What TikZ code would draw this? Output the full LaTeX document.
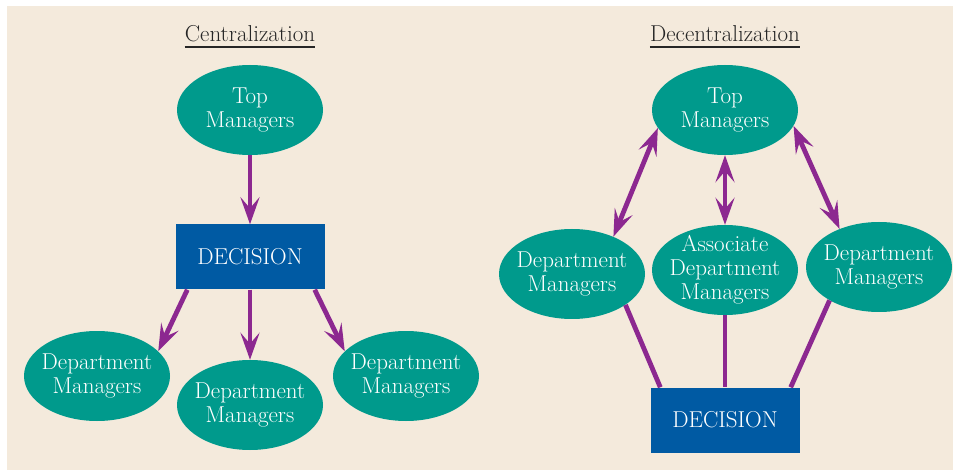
\documentclass[tikz,border=0pt]{standalone}
\usetikzlibrary{arrows.meta,shapes.geometric}
\definecolor{bg}{HTML}{F4EADC}
\definecolor{teal}{HTML}{009A8C}
\definecolor{dblue}{HTML}{005AA3}
\definecolor{purp}{HTML}{8C2890}
\tikzset{
  mgr/.style={ellipse, fill=teal, text=white, minimum width=146pt, minimum height=90pt,
    inner xsep=-14pt, inner ysep=-14pt, align=center, font=\fontsize{23}{24}\selectfont},
  decbox/.style={rectangle, fill=dblue, text=white, minimum width=149pt, minimum height=65pt,
    inner sep=0pt, font=\fontsize{23}{24}\selectfont},
  ttl/.style={font=\fontsize{23}{24}\selectfont, text=black!85, inner sep=0pt, anchor=base},
  arr/.style={draw=purp, line width=4.8pt, -{Stealth[length=27pt,width=19pt,inset=11pt]}},
  darr/.style={draw=purp, line width=4.8pt, {Stealth[length=27pt,width=19pt,inset=11pt]}-{Stealth[length=27pt,width=19pt,inset=11pt]}},
  lnk/.style={draw=purp, line width=4.8pt},
}
\begin{document}
\begin{tikzpicture}[x=1pt,y=-1pt]
\useasboundingbox (0,0) rectangle (953,470);
\fill[white] (0,0) rectangle (953,470);
\fill[bg] (7,6) rectangle (953,470);
% titles
\node[ttl] (t1) at (250,42) {Centralization};
\draw[line width=1.4pt, black!85] (t1.base west) ++(0,5) -- ([yshift=-5pt]t1.base east);
\node[ttl] (t2) at (725,42) {Decentralization};
\draw[line width=1.4pt, black!85] (t2.base west) ++(0,5) -- ([yshift=-5pt]t2.base east);
% left
\node[mgr] (ltop) at (250,110) {Top\\Managers};
\node[decbox] (ldec) at (250,257) {DECISION};
\node[mgr] (ld1) at (97,376) {Department\\Managers};
\node[mgr] (ld2) at (250,405) {Department\\Managers};
\node[mgr] (ld3) at (406,376) {Department\\Managers};
\draw[arr] (ltop) -- (ldec);
\draw[arr] ([xshift=12pt]ldec.south west) -- (ld1.22);
\draw[arr] (ldec.south) -- (ld2.north);
\draw[arr] ([xshift=-10pt]ldec.south east) -- (ld3.158);
% right
\node[mgr] (rtop) at (725,110) {Top\\Managers};
\node[mgr] (rd1) at (572,274) {Department\\Managers};
\node[mgr] (rd2) at (725,270) {Associate\\Department\\Managers};
\node[mgr] (rd3) at (879,267) {Department\\Managers};
\node[decbox] (rdec) at (725,420) {DECISION};
\draw[darr] (rtop.195) -- (rd1.42);
\draw[darr] (rtop.south) -- (rd2.north);
\draw[darr] (rtop.347) -- (rd3.136);
\draw[lnk] (rd1.330) -- ([xshift=10pt]rdec.north west);
\draw[lnk] (rd2.south) -- (rdec.north);
\draw[lnk] (rd3.214) -- ([xshift=-9pt]rdec.north east);
\end{tikzpicture}
\end{document}
